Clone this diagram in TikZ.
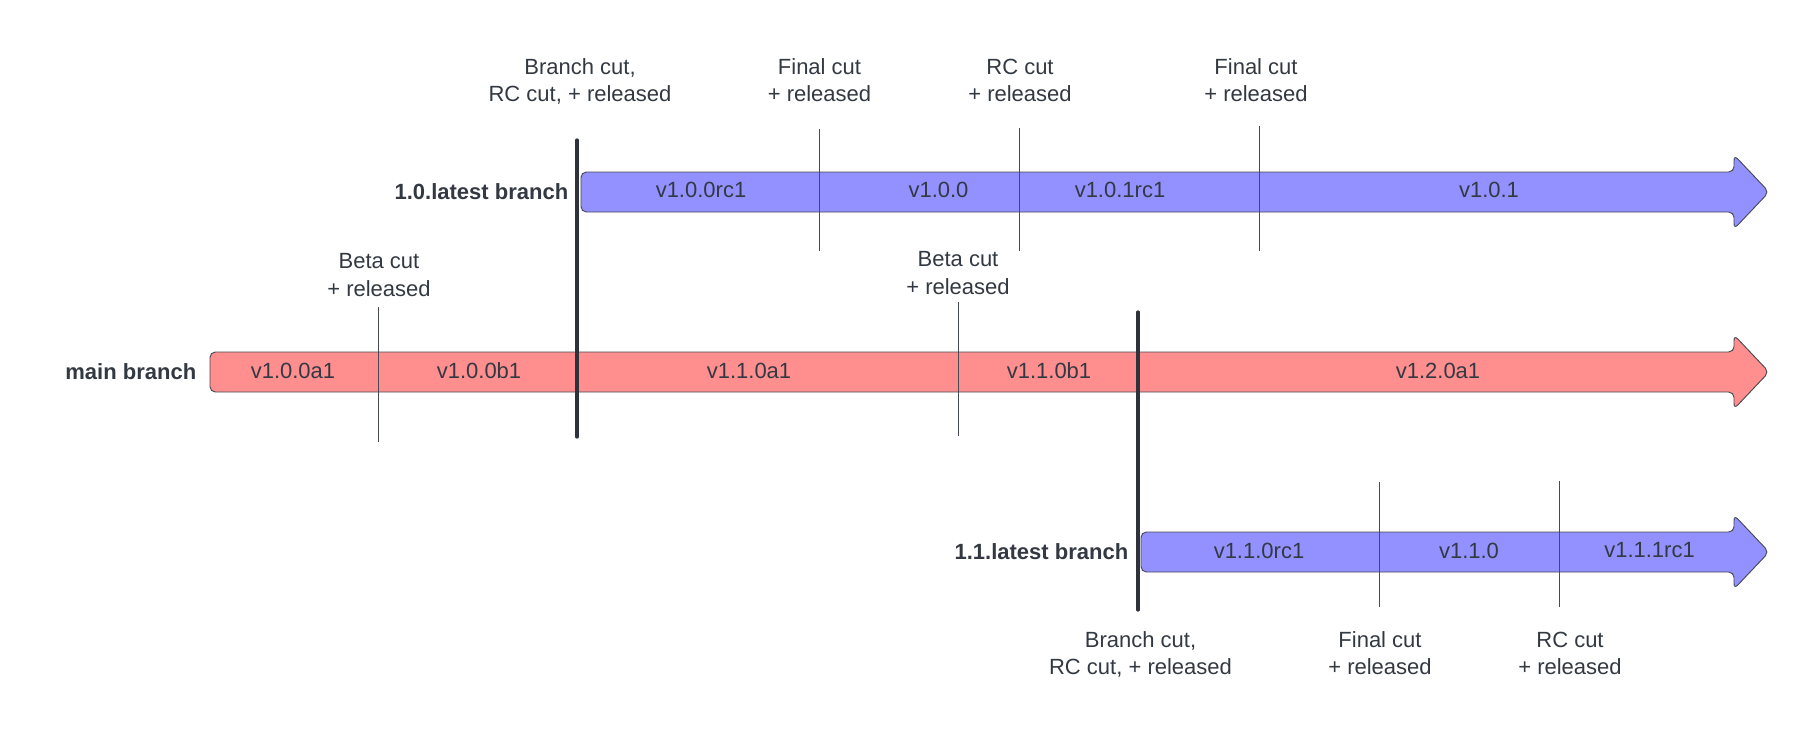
\documentclass[tikz,border=0pt]{standalone}
\usepackage{fontspec}
\setmainfont{Liberation Sans}
\definecolor{inkgray}{RGB}{51,57,66}
\definecolor{edgegray}{RGB}{70,74,82}
\definecolor{barblue}{RGB}{146,145,255}
\definecolor{barred}{RGB}{255,143,143}
\tikzset{
  cutlabel/.style={anchor=base,inner sep=0.75pt,align=center,text=inkgray,font=\fontsize{16.5}{20.6}\selectfont},
  verlabel/.style={inner sep=0.75pt,text=inkgray,font=\fontsize{16.5}{20}\selectfont},
  branchlabel/.style={anchor=east,inner sep=0.75pt,text=inkgray,font=\fontsize{16.5}{20}\selectfont\bfseries},
  tickline/.style={draw=edgegray,line width=0.6pt},
  cutline/.style={draw=inkgray!90!black,line width=2.4pt,line cap=round},
  barbody/.style={draw=edgegray,line width=0.7pt,rounded corners=4pt}
}
\begin{document}
\begin{tikzpicture}[x=0.75pt,y=0.75pt,yscale=-1,xscale=1]
\path (0,0) rectangle (1810,743);

%Shape: Arrow [1.0.latest]
\path[barbody,fill=barblue] (581,172) -- (1734,172) -- (1734,155) -- (1769,192) -- (1734,229) -- (1734,212) -- (581,212) -- cycle ;
%Shape: Arrow [main]
\path[barbody,fill=barred] (210,352) -- (1734,352) -- (1734,335) -- (1769,372) -- (1734,409) -- (1734,392) -- (210,392) -- cycle ;
%Shape: Arrow [1.1.latest]
\path[barbody,fill=barblue] (1141,532) -- (1734,532) -- (1734,515) -- (1769,552) -- (1734,589) -- (1734,572) -- (1141,572) -- cycle ;

%Tick coordinates
\coordinate (ta1) at (819.5,129) ; \coordinate (tb1) at (819.5,251) ;
\coordinate (ta2) at (1019.5,128) ; \coordinate (tb2) at (1019.5,251) ;
\coordinate (ta3) at (1259.5,126) ; \coordinate (tb3) at (1259.5,251) ;
\coordinate (ma1) at (378.5,307) ; \coordinate (mb1) at (378.5,442) ;
\coordinate (ma2) at (958,302) ; \coordinate (mb2) at (958,436) ;
\coordinate (ba1) at (1379.5,482) ; \coordinate (bb1) at (1379.5,607) ;
\coordinate (ba2) at (1559.5,481) ; \coordinate (bb2) at (1559.5,607) ;
\coordinate (cuta1) at (577,140) ; \coordinate (cutb1) at (577,437) ;
\coordinate (cuta2) at (1138,312) ; \coordinate (cutb2) at (1138,610) ;

%Straight Lines [ticks]
\draw[tickline] (ta1) -- (tb1) ;
\draw[tickline] (ta2) -- (tb2) ;
\draw[tickline] (ta3) -- (tb3) ;
\draw[tickline] (ma1) -- (mb1) ;
\draw[tickline] (ma2) -- (mb2) ;
\draw[tickline] (ba1) -- (bb1) ;
\draw[tickline] (ba2) -- (bb2) ;
%Straight Lines [branch cuts]
\draw[cutline] (cuta1) -- (cutb1) ;
\draw[cutline] (cuta2) -- (cutb2) ;

% Text Node
\node[branchlabel] (lbl10) at (569.5,192) {1.0.latest branch};
% Text Node
\node[branchlabel] (lblmain) at (197.5,372) {main branch};
% Text Node
\node[branchlabel] (lbl11) at (1129.5,552) {1.1.latest branch};

% Text Node
\node[verlabel] (v100rc1) at (701,190) {v1.0.0rc1};
\node[verlabel] (v100) at (938.5,190) {v1.0.0};
\node[verlabel] (v101rc1) at (1120,190) {v1.0.1rc1};
\node[verlabel] (v101) at (1489,190) {v1.0.1};
% Text Node
\node[verlabel] (v100a1) at (293,370.5) {v1.0.0a1};
\node[verlabel] (v100b1) at (479,370.5) {v1.0.0b1};
\node[verlabel] (v110a1) at (749,370.5) {v1.1.0a1};
\node[verlabel] (v110b1) at (1049,370.5) {v1.1.0b1};
\node[verlabel] (v120a1) at (1438,370.5) {v1.2.0a1};
% Text Node
\node[verlabel] (v110rc1) at (1259,550.5) {v1.1.0rc1};
\node[verlabel] (v110) at (1469,550.5) {v1.1.0};
\node[verlabel] (v111rc1) at (1649.5,550.5) {v1.1.1rc1};

% Text Node
\node[cutlabel] (cut10) at (580,101.5) {Branch cut,\\RC cut, + released};
\node[cutlabel] (final100) at (819.5,101.5) {Final cut\\+ released};
\node[cutlabel] (rc101) at (1020,101.5) {RC cut\\+ released};
\node[cutlabel] (final101) at (1256,101.5) {Final cut\\+ released};
% Text Node
\node[cutlabel] (beta100) at (379,296) {Beta cut\\+ released};
\node[cutlabel] (beta110) at (958,294) {Beta cut\\+ released};
% Text Node
\node[cutlabel] (cut11) at (1140.5,674.5) {Branch cut,\\RC cut, + released};
\node[cutlabel] (final110) at (1380,674.5) {Final cut\\+ released};
\node[cutlabel] (rc111) at (1570,674.5) {RC cut\\+ released};

\end{tikzpicture}
\end{document}
